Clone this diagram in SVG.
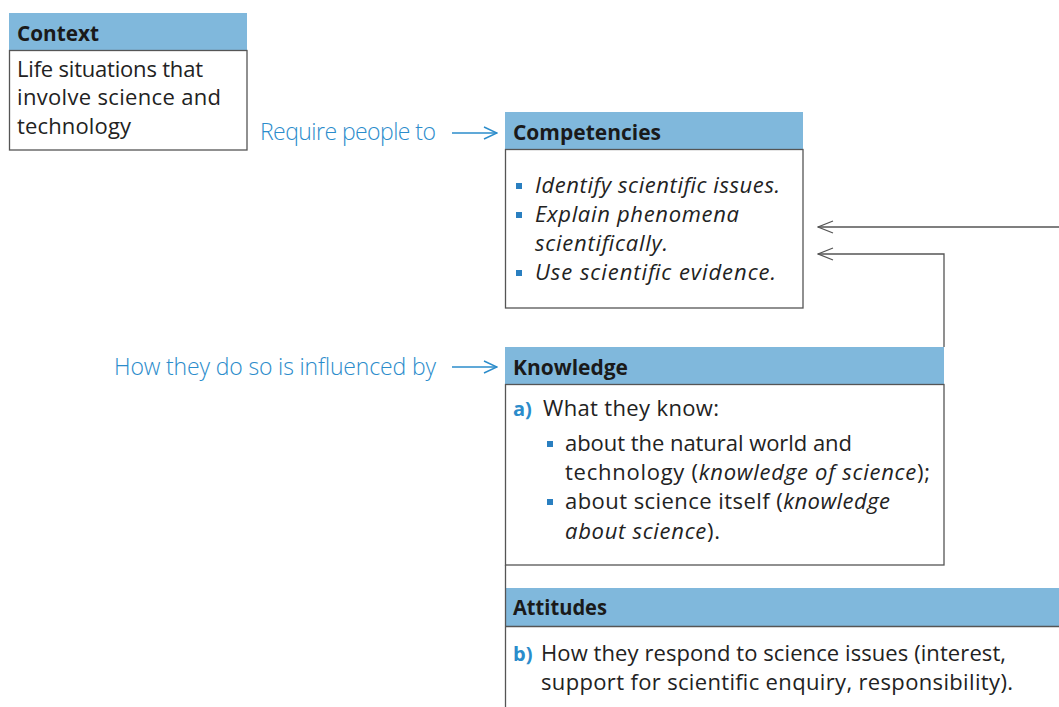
<svg xmlns="http://www.w3.org/2000/svg" width="1059" height="707" viewBox="0 0 1059 707">
<defs>
<style>
.hdr{fill:#80b8dc;stroke:none}
.body{fill:#fff;stroke:#555;stroke-width:1.3}
.ht{font-family:"Open Sans",Lato,sans-serif;font-weight:bold;font-size:21px;fill:#1a1a1a}
.t{font-family:"Open Sans",Lato,sans-serif;font-size:22px;fill:#222}
.i{font-style:italic}
.lbl{font-family:"Open Sans",Lato,sans-serif;font-weight:300;font-size:23px;fill:#2b8ccb}
.num{font-family:"Open Sans",sans-serif;font-weight:bold;font-size:20px;fill:#2b8ccb}
.bul{fill:#2a7fc0}
.conn{fill:none;stroke:#555;stroke-width:1.3}
.blue{fill:none;stroke:#2b8ccb;stroke-width:1.5}
</style>
<marker id="open" viewBox="0 0 20 16" refX="19" refY="8" markerWidth="20" markerHeight="16" markerUnits="userSpaceOnUse" orient="auto">
<path d="M4,2 L19,8 L4,14" fill="none" stroke="#555" stroke-width="1.3"/>
</marker>
<marker id="bopen" viewBox="0 0 20 16" refX="19" refY="8" markerWidth="20" markerHeight="16" markerUnits="userSpaceOnUse" orient="auto">
<path d="M6,2 L19,8 L6,14" fill="none" stroke="#2b8ccb" stroke-width="1.5"/>
</marker>
</defs>
<rect width="1059" height="707" fill="#fff"/>

<g id="context">
<rect class="hdr" x="9" y="13" width="238" height="37"/>
<rect class="body" x="9.5" y="50.5" width="237.5" height="99.5"/>
<text class="ht" x="17" y="41" textLength="82" lengthAdjust="spacingAndGlyphs">Context</text>
<text class="t" x="17" y="77" textLength="186">Life situations that</text>
<text class="t" x="17" y="105" textLength="204">involve science and</text>
<text class="t" x="17" y="134" textLength="114">technology</text>
</g>

<g id="competencies">
<rect class="hdr" x="505" y="112" width="298" height="37"/>
<rect class="body" x="505.5" y="149.5" width="297.5" height="158.5"/>
<text class="ht" x="513" y="140" textLength="148" lengthAdjust="spacingAndGlyphs">Competencies</text>
<rect class="bul" x="516" y="183" width="6" height="6"/>
<rect class="bul" x="516" y="212" width="6" height="6"/>
<rect class="bul" x="516" y="270" width="6" height="6"/>
<text class="t i" x="535" y="193" textLength="245">Identify scientific issues.</text>
<text class="t i" x="535" y="222" textLength="204">Explain phenomena</text>
<text class="t i" x="535" y="251" textLength="133">scientifically.</text>
<text class="t i" x="535" y="280" textLength="241">Use scientific evidence.</text>
</g>

<g id="knowledge">
<rect class="hdr" x="505" y="347" width="439" height="37"/>
<rect class="body" x="505.5" y="384.5" width="438.5" height="180.5"/>
<text class="ht" x="513" y="375" textLength="115" lengthAdjust="spacingAndGlyphs">Knowledge</text>
<text class="num" x="513" y="416">a)</text>
<text class="t" x="543" y="416" textLength="176">What they know:</text>
<rect class="bul" x="547" y="441" width="6" height="6"/>
<rect class="bul" x="547" y="499" width="6" height="6"/>
<text class="t" x="565" y="451" textLength="287">about the natural world and</text>
<text class="t" x="565" y="480" textLength="365">technology (<tspan class="i">knowledge of science</tspan>);</text>
<text class="t" x="565" y="509" textLength="325">about science itself (<tspan class="i">knowledge</tspan></text>
<text class="t" x="565" y="539" textLength="155"><tspan class="i">about science</tspan>).</text>
</g>

<g id="attitudes">
<rect class="hdr" x="505" y="588" width="554" height="38"/>
<line class="conn" x1="505.5" y1="565" x2="505.5" y2="707"/>
<line class="conn" x1="505" y1="626.5" x2="1059" y2="626.5"/>
<text class="ht" x="513" y="615" textLength="94" lengthAdjust="spacingAndGlyphs">Attitudes</text>
<text class="num" x="513" y="661">b)</text>
<text class="t" x="541" y="661" textLength="465">How they respond to science issues (interest,</text>
<text class="t" x="541" y="690" textLength="472">support for scientific enquiry, responsibility).</text>
</g>

<g id="labels">
<text class="lbl" x="260" y="140" textLength="176">Require people to</text>
<text class="lbl" x="114" y="375" textLength="322">How they do so is influenced by</text>
</g>

<g id="connectors">
<line class="blue" x1="452" y1="133" x2="497" y2="133" marker-end="url(#bopen)"/>
<line class="blue" x1="452" y1="367" x2="497" y2="367" marker-end="url(#bopen)"/>
<line class="conn" x1="1059" y1="227" x2="818" y2="227" marker-end="url(#open)"/>
<polyline class="conn" points="944,347 944,254 818,254" marker-end="url(#open)"/>
</g>
</svg>
